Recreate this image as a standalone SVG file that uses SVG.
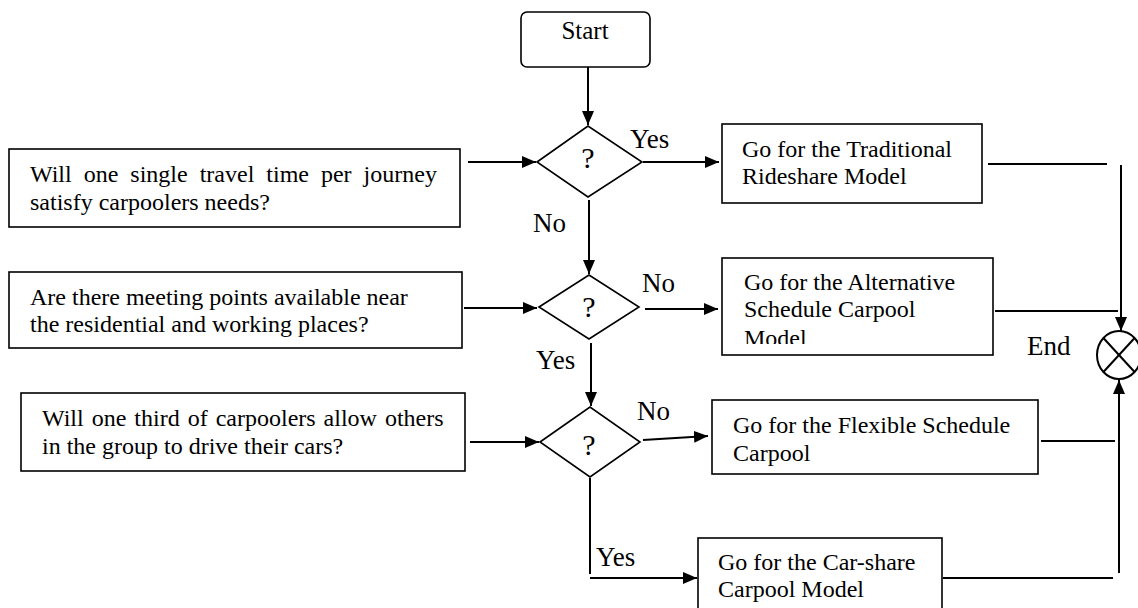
<svg xmlns="http://www.w3.org/2000/svg" width="1138" height="608" viewBox="0 0 1138 608">
<style>
  text { font-family: "Liberation Serif", "Times New Roman", serif; fill: #000; }
  .t { font-size: 24px; }
  .lbl { font-size: 27px; }
  .q { font-size: 30px; text-anchor: middle; }
  .box { fill: #fff; stroke: #000; stroke-width: 1.6; }
  .conn line, .conn path { stroke: #000; stroke-width: 2; fill: none; }
</style>
<defs>
  <marker id="ah" viewBox="0 0 14 12" refX="14" refY="6" markerWidth="14" markerHeight="12" markerUnits="userSpaceOnUse" orient="auto">
    <path d="M0,0 L14,6 L0,12 Z" fill="#000"/>
  </marker>
  <clipPath id="clipAlt"><rect x="700" y="250" width="300" height="94"/></clipPath>
</defs>
<rect width="1138" height="608" fill="#fff"/>

<g class="conn" id="connectors">
  <line x1="588" y1="67" x2="588" y2="125" marker-end="url(#ah)"/>
  <line x1="468" y1="162" x2="536" y2="162" marker-end="url(#ah)"/>
  <line x1="643" y1="162" x2="719" y2="162" marker-end="url(#ah)"/>
  <line x1="988" y1="164" x2="1107" y2="164"/>
  <line x1="1121" y1="165" x2="1121" y2="331" marker-end="url(#ah)"/>
  <line x1="589" y1="200" x2="589" y2="274" marker-end="url(#ah)"/>
  <line x1="464" y1="308" x2="537" y2="308" marker-end="url(#ah)"/>
  <line x1="645" y1="309" x2="718" y2="309" marker-end="url(#ah)"/>
  <line x1="995" y1="311" x2="1118" y2="311"/>
  <line x1="591" y1="343" x2="591" y2="406" marker-end="url(#ah)"/>
  <line x1="470" y1="442" x2="539" y2="442" marker-end="url(#ah)"/>
  <line x1="643" y1="440" x2="708" y2="436" marker-end="url(#ah)"/>
  <line x1="1041" y1="441" x2="1115" y2="441"/>
  <line x1="590" y1="478" x2="590" y2="574"/>
  <line x1="590" y1="578" x2="697" y2="578" marker-end="url(#ah)"/>
  <line x1="943" y1="578" x2="1113" y2="578"/>
  <line x1="1119" y1="573" x2="1119" y2="380" marker-end="url(#ah)"/>
</g>

<g id="start">
  <rect class="box" x="521" y="12" width="129" height="55" rx="6"/>
  <text x="585" y="39" font-size="25" text-anchor="middle">Start</text>
</g>

<g id="decision1">
  <polygon class="box" points="537,162 588,126 642,162 588,197"/>
  <text class="q" x="588" y="168">?</text>
</g>
<g id="decision2">
  <polygon class="box" points="539,307 589,275 639,307 589,339"/>
  <text class="q" x="589" y="317">?</text>
</g>
<g id="decision3">
  <polygon class="box" points="540,442 590,407 640,442 590,477"/>
  <text class="q" x="589" y="455">?</text>
</g>

<g id="question1">
  <rect class="box" x="9" y="149" width="451" height="78"/>
  <text class="t" x="30" y="182" word-spacing="6">Will one single travel time per journey</text>
  <text class="t" x="30" y="210">satisfy carpoolers needs?</text>
</g>
<g id="question2">
  <rect class="box" x="9" y="272" width="453" height="76"/>
  <text class="t" x="30" y="305">Are there meeting points available near</text>
  <text class="t" x="30" y="332">the residential and working places?</text>
</g>
<g id="question3">
  <rect class="box" x="21" y="393" width="444" height="78"/>
  <text class="t" x="42" y="426" word-spacing="2">Will one third of carpoolers allow others</text>
  <text class="t" x="42" y="454">in the group to drive their cars?</text>
</g>

<g id="traditional">
  <rect class="box" x="722" y="124" width="260" height="79"/>
  <text class="t" x="742" y="157">Go for the Traditional</text>
  <text class="t" x="742" y="184">Rideshare Model</text>
</g>
<g id="alternative">
  <rect class="box" x="722" y="258" width="271" height="97"/>
  <text class="t" x="744" y="290">Go for the Alternative</text>
  <text class="t" x="744" y="317">Schedule Carpool</text>
  <text class="t" x="744" y="346" clip-path="url(#clipAlt)">Model</text>
</g>
<g id="flexible">
  <rect class="box" x="712" y="400" width="326" height="74"/>
  <text class="t" x="733" y="433">Go for the Flexible Schedule</text>
  <text class="t" x="733" y="461">Carpool</text>
</g>
<g id="carshare">
  <rect class="box" x="698" y="538" width="244" height="90"/>
  <text class="t" x="718" y="570">Go for the Car-share</text>
  <text class="t" x="718" y="597">Carpool Model</text>
</g>

<g id="end">
  <ellipse cx="1119" cy="355" rx="22" ry="24" fill="#fff" stroke="#000" stroke-width="2"/>
  <line x1="1103.4" y1="338" x2="1134.6" y2="372" stroke="#000" stroke-width="2"/>
  <line x1="1134.6" y1="338" x2="1103.4" y2="372" stroke="#000" stroke-width="2"/>
  <text class="lbl" x="1027" y="355">End</text>
</g>

<g id="labels">
  <text class="lbl" x="630" y="148">Yes</text>
  <text class="lbl" x="533" y="232">No</text>
  <text class="lbl" x="642" y="292">No</text>
  <text class="lbl" x="536" y="369">Yes</text>
  <text class="lbl" x="637" y="420">No</text>
  <text class="lbl" x="596" y="566">Yes</text>
</g>
</svg>
